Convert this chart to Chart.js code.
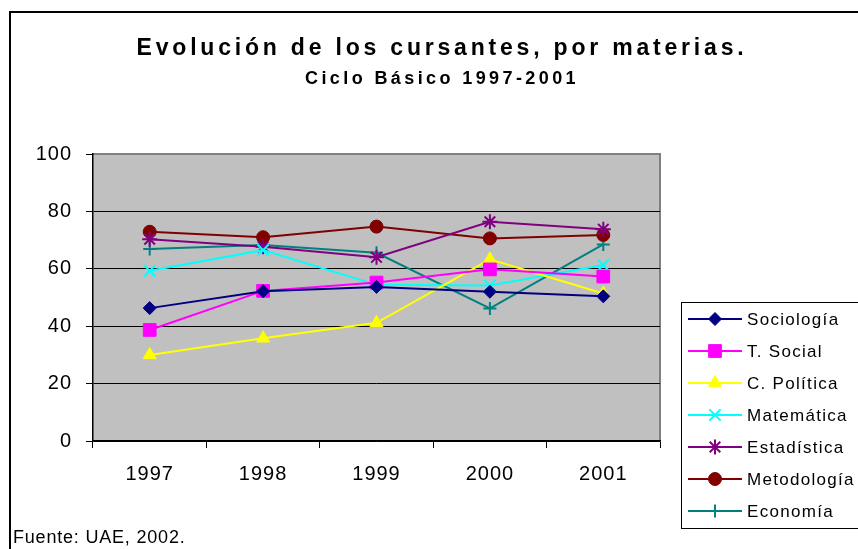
<!DOCTYPE html>
<html>
<head>
<meta charset="utf-8">
<script src="https://cdn.jsdelivr.net/npm/chart.js"></script>
<style>
  html, body { margin: 0; padding: 0; background: #fff; }
  #wrap { position: relative; width: 858px; height: 549px; overflow: hidden; font-family: "Liberation Sans", Arial, sans-serif; }
  #frame { position: absolute; left: 9px; top: 11px; width: 900px; height: 600px; border-left: 2px solid #000; border-top: 2px solid #000; pointer-events: none; }
  .title { position: absolute; left: 0; width: 884px; text-align: center; font-weight: bold; color: #000; }
  #t1 { top: 34px; font-size: 23px; letter-spacing: 3.8px; }
  #t2 { top: 68px; font-size: 18px; letter-spacing: 3.4px; }
  #foot { position: absolute; left: 13px; top: 527px; font-size: 18px; letter-spacing: 0.8px; color: #000; }
  canvas { position: absolute; left: 0; top: 0; }
</style>
</head>
<body>
<div id="wrap">
  <canvas id="chart" width="858" height="549"></canvas>
  <div id="frame"></div>
  <div class="title" id="t1">Evolución de los cursantes, por materias.</div>
  <div class="title" id="t2">Ciclo Básico 1997-2001</div>
  <div id="foot">Fuente: UAE, 2002.</div>
</div>
<script>
// values
const years = ['1997', '1998', '1999', '2000', '2001'];
const sociologia = [46.3, 52.2, 53.7, 52.0, 50.4];
const tSocial = [38.7, 52.3, 55.2, 59.8, 57.3];
const cPolitica = [30.0, 35.8, 41.2, 63.3, 51.4];
const matematica = [59.3, 66.5, 54.4, 54.2, 61.3];
const estadistica = [70.3, 67.7, 64.0, 76.4, 73.8];
const metodologia = [72.9, 71.0, 74.7, 70.6, 71.8];
const economia = [66.9, 68.3, 65.6, 46.2, 68.5];
const yTicks = [0, 20, 40, 60, 80, 100];

const FONT = '"Liberation Sans", Arial, sans-serif';

function serie(label, data, color, style, radius, bw) {
    return {
        label: label, data: data,
        borderColor: color, backgroundColor: color,
        pointStyle: style, pointRadius: radius, pointHoverRadius: radius,
        pointBorderWidth: bw, borderWidth: 2, tension: 0
    };
}

const plotBg = {
    id: 'plotBg',
    beforeDraw(chart) {
        const { ctx, chartArea: a } = chart;
        ctx.save();
        ctx.fillStyle = '#C0C0C0';
        ctx.fillRect(a.left, a.top, a.right - a.left, a.bottom - a.top);
        ctx.strokeStyle = '#808080';
        ctx.lineWidth = 2;
        ctx.beginPath();
        ctx.moveTo(a.left, a.top);
        ctx.lineTo(a.right, a.top);
        ctx.lineTo(a.right, a.bottom);
        ctx.stroke();
        ctx.restore();
        ctx.letterSpacing = '1px';
    }
};

const boxLegend = {
    id: 'boxLegend',
    afterDraw(chart) {
        const ctx = chart.ctx;
        ctx.save();
        ctx.letterSpacing = '1.3px';
        ctx.fillStyle = '#fff';
        ctx.fillRect(681, 302, 190, 226);
        ctx.strokeStyle = '#000';
        ctx.lineWidth = 1;
        ctx.strokeRect(681.5, 302.5, 190, 226);
        chart.data.datasets.forEach((ds, i) => {
            const y = 319 + i * 32;
            ctx.strokeStyle = ds.borderColor;
            ctx.lineWidth = 2;
            ctx.beginPath();
            ctx.moveTo(688, y);
            ctx.lineTo(742, y);
            ctx.stroke();
            ctx.fillStyle = ds.backgroundColor;
            ctx.lineWidth = ds.pointBorderWidth;
            Chart.helpers.drawPoint(ctx, { pointStyle: ds.pointStyle, radius: ds.pointRadius, rotation: 0, borderWidth: ds.pointBorderWidth }, 715, y);
            ctx.fillStyle = '#000';
            ctx.font = '17px ' + FONT;
            ctx.textBaseline = 'middle';
            ctx.textAlign = 'left';
            ctx.fillText(ds.label, 747, y + 1);
        });
        ctx.restore();
    }
};

new Chart(document.getElementById('chart'), {
    type: 'line',
    data: {
        labels: years,
        datasets: [
            serie('Sociología', sociologia, '#000080', 'rectRot', 6.5, 1),
            serie('T. Social', tSocial, '#FF00FF', 'rect', 9, 1),
            serie('C. Política', cPolitica, '#FFFF00', 'triangle', 7.5, 1),
            serie('Matemática', matematica, '#00FFFF', 'crossRot', 8, 2),
            serie('Estadística', estadistica, '#800080', 'star', 7.5, 2),
            serie('Metodología', metodologia, '#800000', 'circle', 6.5, 1),
            serie('Economía', economia, '#008080', 'cross', 6.5, 2)
        ]
    },
    options: {
        responsive: false,
        animation: false,
        layout: { padding: { top: 154, right: 198, bottom: 0, left: 0 } },
        plugins: { legend: { display: false }, title: { display: false }, tooltip: { enabled: false } },
        scales: {
            x: {
                offset: true,
                grid: { offset: true, drawOnChartArea: false, tickLength: 7, tickColor: '#000', lineWidth: 1 },
                border: { color: '#000', width: 1.5 },
                ticks: { color: '#000', font: { family: FONT, size: 20 }, padding: 14, maxRotation: 0 },
                afterFit(s) { s.height = 108; }
            },
            y: {
                min: 0, max: 100,
                afterBuildTicks(s) { s.ticks = yTicks.map(v => ({ value: v })); },
                grid: {
                    color: c => (c.tick && c.tick.value === 100) ? '#808080' : '#000',
                    tickColor: '#000', tickLength: 7, lineWidth: 1
                },
                border: { color: '#000', width: 1.5 },
                ticks: { color: '#000', font: { family: FONT, size: 20 }, padding: 14 },
                afterFit(s) { s.width = 93; }
            }
        }
    },
    plugins: [plotBg, boxLegend]
});
</script>
</body>
</html>
